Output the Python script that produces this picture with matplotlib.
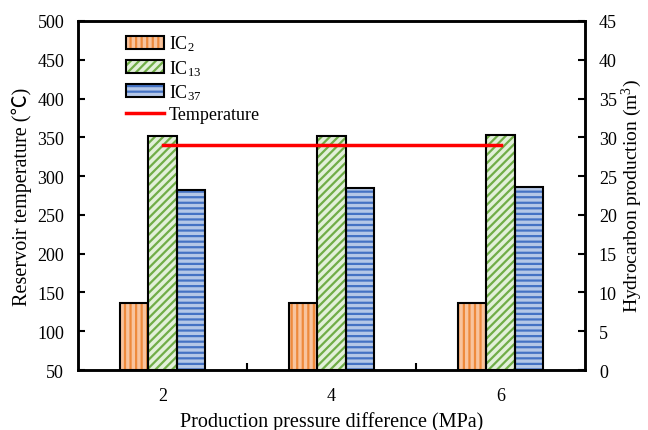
import matplotlib
matplotlib.use("Agg")
import matplotlib.pyplot as plt
import numpy as np
from matplotlib.patches import Patch

plt.rcParams['font.family'] = ['Liberation Serif', 'DejaVu Serif']
plt.rcParams['mathtext.fontset'] = 'custom'
plt.rcParams['mathtext.rm'] = 'Liberation Serif'
plt.rcParams['mathtext.it'] = 'Liberation Serif:italic'
plt.rcParams['hatch.linewidth'] = 1.6

categories = ['2', '4', '6']
ic2 = [8.7, 8.7, 8.7]
ic13 = [30.2, 30.2, 30.3]
ic37 = [23.2, 23.5, 23.6]
temperature = [340, 340, 340]

series = [
    (ic2, r'IC$_{\mathregular{2}}$', '#F8C49E', '#EE8A3C', '|||'),
    (ic13, r'IC$_{\mathregular{13}}$', '#E2F0D9', '#70AD47', '////'),
    (ic37, r'IC$_{\mathregular{37}}$', '#B4C7E7', '#4472C4', '---'),
]

fig = plt.figure(figsize=(6.48, 4.31), dpi=100)
ax = fig.add_axes([0.1204, 0.1392, 0.7824, 0.8098])
ax2 = ax.twinx()

x = np.arange(len(categories))
w = 1 / 6
handles = []
for i, (vals, label, fc, hc, hatch) in enumerate(series):
    pos = x + (i - 1) * w
    ax2.bar(pos, vals, width=w, color=fc, edgecolor=hc, hatch=hatch, linewidth=0, zorder=2)
    ax2.bar(pos, vals, width=w, fill=False, edgecolor='black', linewidth=1.5, zorder=3)
    h1 = Patch(facecolor=fc, edgecolor=hc, hatch=hatch, linewidth=0)
    h2 = Patch(fill=False, edgecolor='black', linewidth=1.5)
    handles.append(((h1, h2), label))

line, = ax.plot(x, temperature, color='#FF0000', linewidth=2.5, zorder=5)
handles.append((line, 'Temperature'))

ax.set_zorder(ax2.get_zorder() + 1)
ax.patch.set_visible(False)

ax.set_xlim(-0.5, 2.5)
ax.set_ylim(50, 500)
ax.set_yticks(np.arange(50, 501, 50))
ax2.set_ylim(0, 45)
ax2.set_yticks(np.arange(0, 46, 5))

ax.set_xticks(x)
ax.set_xticklabels(categories)
ax.set_xticks([0.5, 1.5], minor=True)
ax.tick_params(axis='x', which='major', length=0, pad=12, labelsize=13)
ax.tick_params(axis='x', which='minor', direction='in', length=5, width=1.5)
ax.tick_params(axis='y', direction='in', length=5, width=1.5, labelsize=13, pad=10)
ax2.tick_params(axis='y', direction='in', length=5, width=1.5, labelsize=13, pad=10)

for a in (ax, ax2):
    for s in a.spines.values():
        s.set_linewidth(1.8)

ax.set_xlabel('Production pressure difference (MPa)', fontsize=14.5, labelpad=5)
ax.set_ylabel('Reservoir temperature (\u2103)', fontsize=14.5,
              family=['Liberation Serif', 'Noto Sans CJK SC'], labelpad=4)
ax2.set_ylabel(r'Hydrocarbon production (m$^{\mathregular{3}}$)', fontsize=14, labelpad=2)

leg = ax.legend([h for h, _ in handles], [l for _, l in handles],
                loc='upper left', bbox_to_anchor=(0.069, 1.0), frameon=False,
                fontsize=13, handlelength=2.1, handleheight=0.7, labelspacing=0.25,
                handletextpad=0.3, borderaxespad=0.3)

fig.savefig('out.png', dpi=100)
